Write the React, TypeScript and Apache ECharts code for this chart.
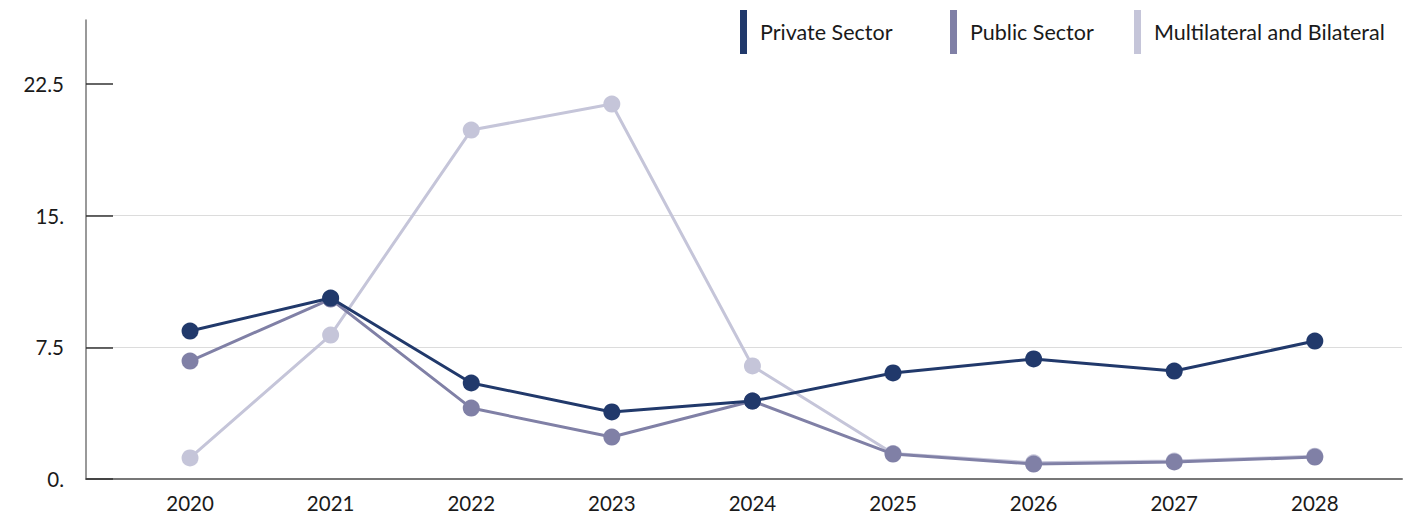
import React, { useEffect, useRef } from "react";
import * as echarts from "echarts";

const years = [2020, 2021, 2022, 2023, 2024, 2025, 2026, 2027, 2028];
const privateSector = [8.43, 10.31, 5.47, 3.82, 4.44, 6.04, 6.84, 6.15, 7.86];
const publicSector = [6.72, 10.25, 4.04, 2.39, 4.44, 1.42, 0.85, 0.97, 1.25];
const multilateral = [1.2, 8.2, 19.88, 21.36, 6.44, 1.45, 0.92, 1.02, 1.3];
const yTicks = [0, 7.5, 15, 22.5];

const names = ["Private Sector", "Public Sector", "Multilateral and Bilateral"];
const colors = ["#21396b", "#8080a6", "#c5c5d9"];
const legendLefts = [735, 945, 1129];

const FONT = "Lato";

export default function App() {
  const ref = useRef<HTMLDivElement>(null);
  useEffect(() => {
    document.body.style.margin = "0";
    if (!ref.current) return;
    const chart = echarts.init(ref.current, undefined, { renderer: "svg" });
    const mk = (vals: number[]) => years.map((y, i) => [y, vals[i]]);
    const datasets = [privateSector, publicSector, multilateral];
    chart.setOption({
      animation: false,
      backgroundColor: "#ffffff",
      grid: { left: 86, right: 18, top: 20, bottom: 39, containLabel: false },
      legend: names.map((n, i) => ({
        data: [n],
        left: legendLefts[i],
        top: 5,
        icon: "rect",
        itemWidth: 7,
        itemHeight: 44,
        selectedMode: false,
        textStyle: { fontFamily: FONT, fontSize: 21.5, color: "#1a1a1a", padding: [0, 0, 6, 8] },
      })),
      xAxis: {
        type: "value",
        min: 2019.26,
        max: 2028.62,
        axisLine: { show: true, lineStyle: { color: "#777", width: 2 } },
        axisTick: { show: false },
        splitLine: { show: false },
        axisLabel: {
          customValues: years,
          formatter: (v: number) => String(Math.round(v)),
          fontFamily: FONT,
          fontSize: 20.5,
          color: "#1a1a1a",
          margin: 13,
        },
      },
      yAxis: {
        type: "value",
        min: 0,
        max: 26.15,
        interval: 7.5,
        axisLine: { show: true, lineStyle: { color: "#777", width: 1.5 } },
        axisTick: {
          show: true,
          inside: true,
          length: 27,
          customValues: yTicks,
          lineStyle: { color: "#333", width: 1.5 },
        },
        splitLine: { show: true, showMaxLine: false, lineStyle: { color: "#dcdcdc", width: 1 } },
        axisLabel: {
          customValues: yTicks,
          formatter: (v: number) => (Number.isInteger(v) ? v + "." : String(v)),
          fontFamily: FONT,
          fontSize: 20.5,
          color: "#1a1a1a",
          margin: 22,
        },
      },
      series: names.map((n, i) => ({
        name: n,
        type: "line",
        data: mk(datasets[i]),
        z: 10 - i,
        symbol: "circle",
        symbolSize: 17,
        color: colors[i],
        lineStyle: { color: colors[i], width: 3 },
        itemStyle: { color: colors[i] },
        emphasis: { disabled: true },
      })),
    });
    return () => chart.dispose();
  }, []);
  return <div ref={ref} style={{ width: 1420, height: 518 }} />;
}
